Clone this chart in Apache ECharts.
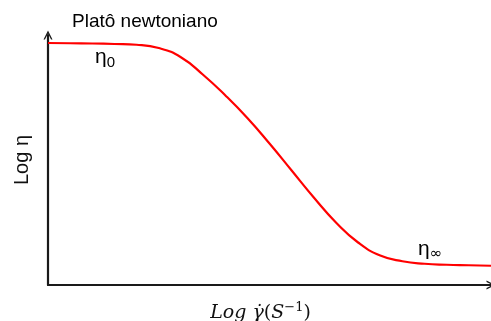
<!DOCTYPE html>
<html><head><meta charset="utf-8">
<script src="https://cdn.jsdelivr.net/npm/echarts@6/dist/echarts.min.js"></script>
<style>html,body{margin:0;padding:0;background:#fff}#c{width:491px;height:321px}</style>
</head><body><div id="c"></div>
<script>
const shearRate = [0, 5, 10, 15, 20, 25, 30, 35, 40, 45, 50, 55, 60, 65, 70, 75, 80, 85, 90, 95, 100];
const viscosity = [96.8, 96.7, 96.6, 96.4, 96.1, 94.8, 91.1, 84.1, 75.9, 66.8, 56.6, 45.8, 35.0, 25.0, 17.0, 11.8, 9.5, 8.5, 8.1, 7.9, 7.7];
const yTitle = 'Log η';
const plateauLabel = 'Platô newtoniano';

const chart = echarts.init(document.getElementById('c'), null, {renderer: 'canvas'});
const arrow = 'path://M0,10 L5,0 L10,10 L8.4,10 L5,3.2 L1.6,10 Z';
const axisCommon = {
  type: 'value', min: 0, max: 100,
  axisLine: {show: true, symbol: ['none', arrow], symbolSize: [11, 9], lineStyle: {color: '#1a1a1a', width: 2.2}},
  axisTick: {show: false}, axisLabel: {show: false}, splitLine: {show: false}
};
const serif = 'DejaVu Serif';
chart.setOption({
  animation: false,
  backgroundColor: '#fff',
  grid: {left: 48, right: 0, top: 35, bottom: 36, outerBoundsMode: 'none', containLabel: false},
  xAxis: Object.assign({}, axisCommon, {
    name: '{i|Log γ̇}{p|(}{i|S}{s|−1}{p|)}', nameLocation: 'middle', nameGap: 16,
    nameTextStyle: {
      padding: [0, 18, 0, 0],
      rich: {
        i: {fontFamily: serif, fontStyle: 'italic', fontSize: 19, color: '#111'},
        p: {fontFamily: serif, fontSize: 19, color: '#111'},
        s: {fontFamily: serif, fontSize: 13, color: '#111', padding: [0, 0, 11, 0]}
      }
    }
  }),
  yAxis: Object.assign({}, axisCommon, {
    name: yTitle, nameLocation: 'middle', nameGap: 16, nameRotate: 90,
    nameTextStyle: {fontFamily: 'Liberation Sans', fontSize: 20, color: '#111'}
  }),
  series: [{
    type: 'line', smooth: 0.5, showSymbol: false,
    data: shearRate.map((x, i) => [x, viscosity[i]]),
    lineStyle: {color: '#ff0000', width: 2.2}
  }],
  graphic: [
    {type: 'text', x: 72, y: 12, style: {text: plateauLabel, font: '19px "Liberation Sans"', fill: '#000'}},
    {type: 'text', x: 95, y: 45, style: {text: '{a|η}{b|0}', rich: {a: {fontSize: 21, fontFamily: 'Liberation Sans', color: '#555'}, b: {fontSize: 15, fontFamily: 'Liberation Sans', color: '#555', padding: [10, 0, 0, 0]}}}},
    {type: 'text', x: 418, y: 237, style: {text: '{a|η}{b|∞}', rich: {a: {fontSize: 21, fontFamily: 'Liberation Sans', color: '#555'}, b: {fontSize: 15, fontFamily: 'DejaVu Sans', color: '#555', padding: [10, 0, 0, 0]}}}}
  ]
});
</script>
</body></html>
